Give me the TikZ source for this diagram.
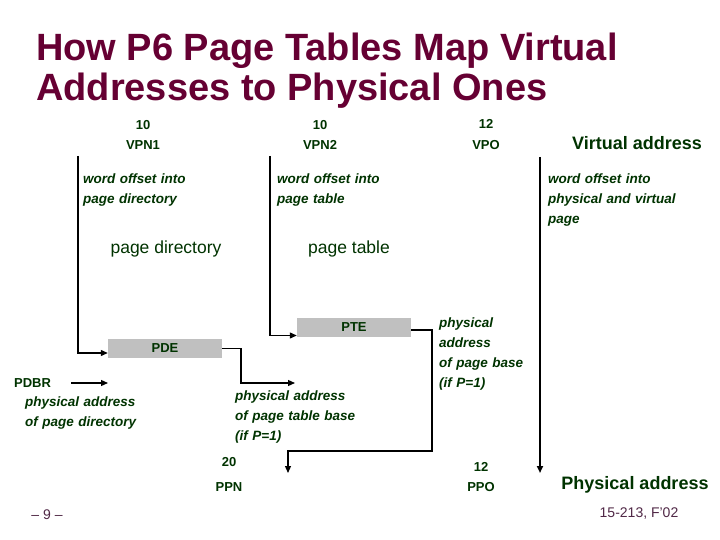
\documentclass[tikz,border=0pt]{standalone}
\usepackage{fontspec}
\setmainfont{Liberation Sans}
\usetikzlibrary{arrows.meta, positioning}
\definecolor{titlered}{RGB}{102,0,51}
\definecolor{txtgreen}{RGB}{0,51,0}
\definecolor{entrygray}{RGB}{192,192,192}
\definecolor{footgray}{RGB}{80,40,70}

\tikzset{
  lbl/.style={inner sep=0pt, text=txtgreen, font=\bfseries\fontsize{13}{16}\selectfont},
  big/.style={inner sep=0pt, text=txtgreen, font=\fontsize{17.5}{20}\selectfont},
  head/.style={inner sep=0pt, text=txtgreen, font=\bfseries\fontsize{18}{20}\selectfont},
  note/.style={inner sep=0pt, text=txtgreen, anchor=base west, text width=170pt, align=left,
    font=\bfseries\itshape\fontsize{13.5}{20}\selectfont},
  entry/.style={lbl, fill=entrygray, minimum width=114pt, minimum height=19pt},
  wire/.style={line width=1.2pt},
  arr/.style={wire, -{Triangle[length=7pt,width=6pt]}},
}

\begin{document}
\begin{tikzpicture}[x=1pt, y=-1pt]
\useasboundingbox[fill=white] (0,0) rectangle (720,540);

% title
\node[inner sep=0pt, anchor=base west, text=titlered, font=\bfseries\fontsize{38}{40}\selectfont] (title1) at (36,61) {How P6 Page Tables Map Virtual};
\node[inner sep=0pt, anchor=base west, text=titlered, font=\bfseries\fontsize{38}{40}\selectfont] (title2) at (36,101) {Addresses to Physical Ones};

% virtual address fields
\node[lbl] (bitsa) at (143,125) {10};
\node[lbl, below=10.7pt of bitsa] (vpn1) {VPN1};
\node[lbl] (bitsb) at (320,125) {10};
\node[lbl, below=10.7pt of bitsb] (vpn2) {VPN2};
\node[lbl] (bitsc) at (486,124) {12};
\node[lbl, below=11.5pt of bitsc] (vpo) {VPO};
\node[head] (vaddr) at (637,143) {Virtual address};

\node[note] (offa) at (83,183.5) {word offset into\\page directory};
\node[note] (offb) at (277,183.5) {word offset into\\page table};
\node[note] (offc) at (548,183.5) {word offset into\\physical and virtual\\page};

\node[big] (pdir) at (166,249) {page directory};
\node[big] (ptab) at (349,249) {page table};

% table entries
\node[entry] (pte) at (354,327.5) {PTE};
\node[entry] (pde) at (165,348.5) {PDE};

\node[lbl] (pdbr) at (32.5,383) {PDBR};
\coordinate (pdbrtip) at (108,383);
\node[note] (pdbrnote) at (25,406.5) {physical address\\of page directory};
\node[note] (ptbnote) at (235,400.5) {physical address\\of page table base\\(if P=1)};
\node[note] (pgbnote) at (439,327.5) {physical\\address\\of page base\\(if P=1)};

% physical address fields
\node[lbl] (bitsd) at (229,462) {20};
\node[lbl, below=15.7pt of bitsd] (ppn) {PPN};
\node[lbl] (bitse) at (481,467) {12};
\node[lbl, below=10.7pt of bitse] (ppo) {PPO};
\node[head] (paddr) at (635,485) {Physical address};

% connectors
\coordinate (topa) at (78,156);
\coordinate (topb) at (270,156);
\coordinate (topc) at (540,157);
\coordinate (ptbtip) at (295,383);
\coordinate (ppntip) at (288,473);
\coordinate (ppotip) at (540,473);

\draw[arr] (topa) |- ([yshift=-4.5pt]pde.west);
\draw[arr] (topb) |- ([yshift=-8pt]pte.west);
\draw[arr, line width=2.2pt] (topc) -- (ppotip);
\draw[arr] ([xshift=20pt]pdbr.east) -- (pdbrtip);
\draw[arr] (pde.east) -- (241,348.5) |- (ptbtip);
\draw[arr] ([yshift=-2.5pt]pte.east) -- (432,330) -- (432,451) -| (ppntip);

% footer
\node[inner sep=0pt, text=footgray, font=\fontsize{14}{16}\selectfont] (pagenum) at (47,515) {-- 9 --};
\node[inner sep=0pt, text=footgray, font=\fontsize{14}{16}\selectfont] (course) at (639,514) {15-213, F'02};
\end{tikzpicture}
\end{document}
